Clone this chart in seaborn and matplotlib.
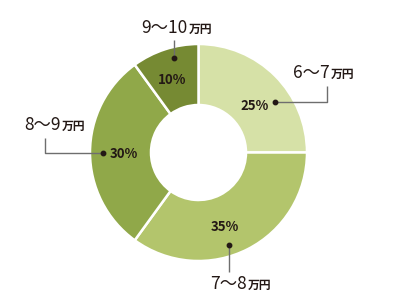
import matplotlib
matplotlib.use("Agg")
import matplotlib.pyplot as plt
import seaborn as sns

# data
categories = ["6～7", "7～8", "8～9", "9～10"]
unit = "万円"
shares = [25, 35, 30, 10]
pct_labels = ["25%", "35%", "30%", "10%"]
colors = ["#d6e1a7", "#b3c56c", "#90a849", "#768a33"]

sns.set_theme(style="white")
plt.rcParams['font.family'] = ['Noto Sans CJK JP', 'DejaVu Sans']

W, H = 400, 304
fig = plt.figure(figsize=(W / 100, H / 100), dpi=100)
ax = fig.add_axes([0, 0, 1, 1])
ax.set_xlim(0, W)
ax.set_ylim(0, H)
ax.set_aspect('equal')
ax.axis('off')

def Y(y):
    return H - y

cx, cy, R = 198.5, 152.5, 108.5
ax.pie(shares, colors=colors, startangle=90, counterclock=False,
       center=(cx, Y(cy)), radius=R, frame=True,
       wedgeprops=dict(width=61, edgecolor='white', linewidth=1.8))
ax.set_xlim(0, W)
ax.set_ylim(0, H)
ax.axis('off')

txt = "#231815"
line_c = "#6e6e6e"

# percentage labels (pixel coordinates)
pct_pos = [(255, 106), (225, 227), (124, 154), (172, 80)]
for (x, y), s in zip(pct_pos, pct_labels):
    ax.text(x, Y(y), s, ha='center', va='center', fontsize=9.5,
            fontweight='bold', color=txt)

# leader lines: list of polyline points, dot at first point
leaders = [
    [(275, 102), (327, 102), (327, 86)],
    [(229, 245), (229, 272)],
    [(103, 153), (45, 153), (45, 138)],
    [(174, 58), (174, 40)],
]
for pts in leaders:
    xs = [p[0] for p in pts]
    ys = [Y(p[1]) for p in pts]
    ax.plot(xs, ys, color=line_c, lw=1.0, solid_capstyle='butt')
    ax.plot(xs[0], ys[0], 'o', color=txt, ms=3.2)

# category labels: split x, baseline y
label_pos = [(330, 78), (247, 289), (61, 130), (188, 33)]
for (x, y), c in zip(label_pos, categories):
    ax.text(x, Y(y), c, ha='right', va='baseline', fontsize=12.5, color=txt)
    ax.text(x + 1, Y(y), unit, ha='left', va='baseline', fontsize=8.5,
            color=txt, fontweight='bold')

fig.savefig("out.png", dpi=100, facecolor='white')
